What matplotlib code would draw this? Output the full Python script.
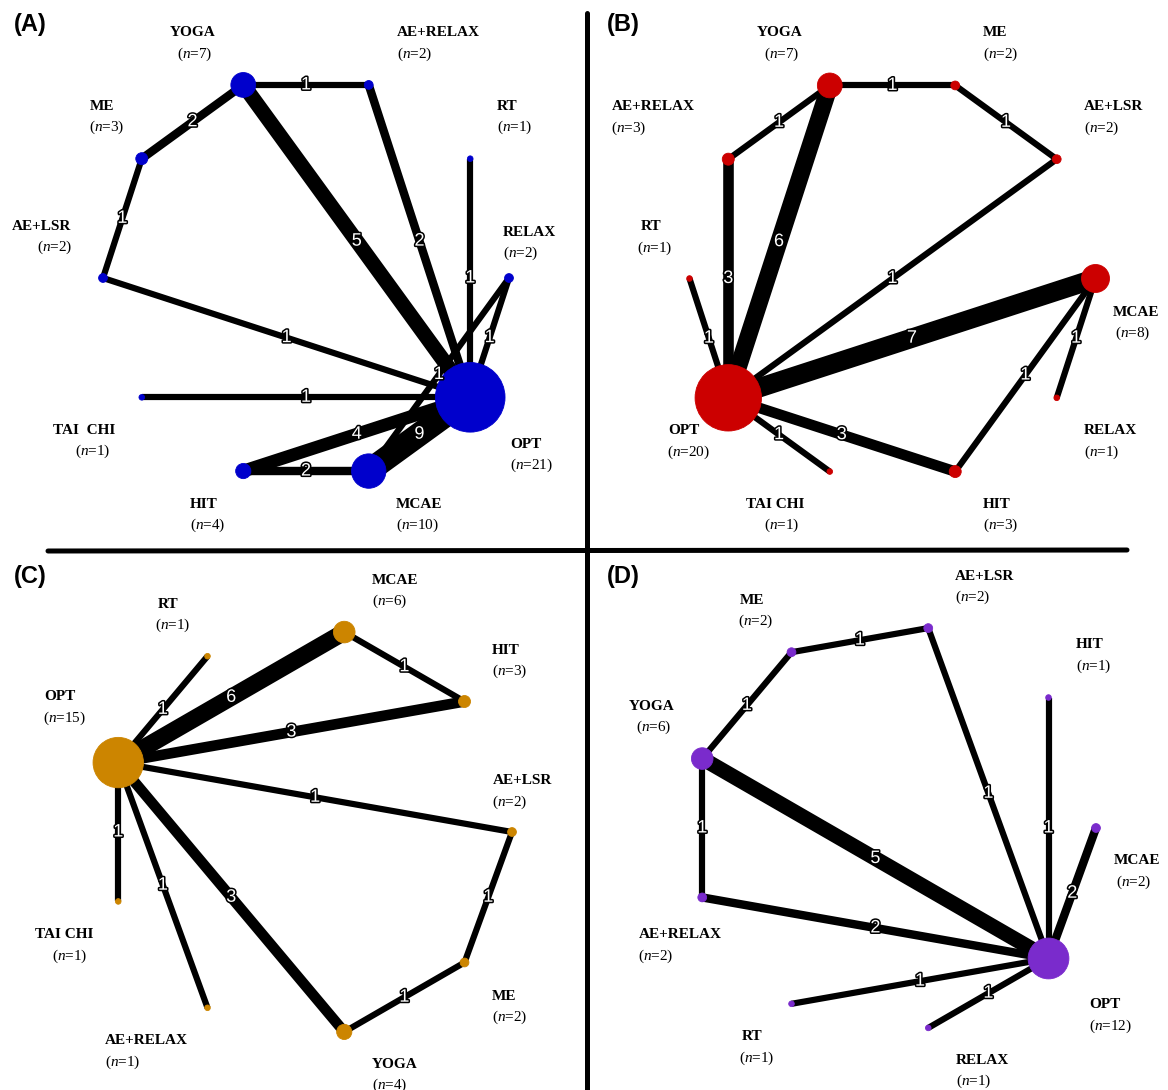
import numpy as np
import matplotlib.pyplot as plt
import matplotlib.patheffects as pe
from matplotlib.patches import Circle

plt.rcParams['mathtext.fontset'] = 'custom'
plt.rcParams['mathtext.rm'] = 'Liberation Serif'
plt.rcParams['mathtext.it'] = 'Liberation Serif:italic'

# ---- data: treatments in circular order (counter-clockwise from 3 o'clock),
# number of studies per node, and number of direct comparisons per edge
a_names = ['RELAX', 'RT', 'AE+RELAX', 'YOGA', 'ME', 'AE+LSR', 'TAI  CHI', 'HIT', 'MCAE', 'OPT']
a_n = [2, 1, 2, 7, 3, 2, 1, 4, 10, 21]
a_edges = [('YOGA', 'AE+RELAX', 1), ('YOGA', 'ME', 2), ('YOGA', 'OPT', 5),
           ('AE+RELAX', 'OPT', 2), ('ME', 'AE+LSR', 1), ('AE+LSR', 'OPT', 1),
           ('RT', 'OPT', 1), ('RELAX', 'OPT', 1), ('RELAX', 'MCAE', 1),
           ('TAI  CHI', 'OPT', 1), ('HIT', 'OPT', 4), ('HIT', 'MCAE', 2),
           ('MCAE', 'OPT', 9)]

b_names = ['MCAE', 'AE+LSR', 'ME', 'YOGA', 'AE+RELAX', 'RT', 'OPT', 'TAI CHI', 'HIT', 'RELAX']
b_n = [8, 2, 2, 7, 3, 1, 20, 1, 3, 1]
b_edges = [('YOGA', 'ME', 1), ('ME', 'AE+LSR', 1), ('YOGA', 'AE+RELAX', 1),
           ('AE+RELAX', 'OPT', 3), ('YOGA', 'OPT', 6), ('AE+LSR', 'OPT', 1),
           ('RT', 'OPT', 1), ('MCAE', 'OPT', 7), ('MCAE', 'RELAX', 1),
           ('MCAE', 'HIT', 1), ('OPT', 'HIT', 3), ('OPT', 'TAI CHI', 1)]

c_names = ['AE+LSR', 'HIT', 'MCAE', 'RT', 'OPT', 'TAI CHI', 'AE+RELAX', 'YOGA', 'ME']
c_n = [2, 3, 6, 1, 15, 1, 1, 4, 2]
c_edges = [('OPT', 'RT', 1), ('OPT', 'MCAE', 6), ('MCAE', 'HIT', 1),
           ('OPT', 'HIT', 3), ('OPT', 'AE+LSR', 1), ('AE+LSR', 'ME', 1),
           ('ME', 'YOGA', 1), ('OPT', 'YOGA', 3), ('OPT', 'AE+RELAX', 1),
           ('OPT', 'TAI CHI', 1)]

d_names = ['MCAE', 'HIT', 'AE+LSR', 'ME', 'YOGA', 'AE+RELAX', 'RT', 'RELAX', 'OPT']
d_n = [2, 1, 2, 2, 6, 2, 1, 1, 12]
d_edges = [('YOGA', 'ME', 1), ('ME', 'AE+LSR', 1), ('AE+LSR', 'OPT', 1),
           ('HIT', 'OPT', 1), ('MCAE', 'OPT', 2), ('YOGA', 'OPT', 5),
           ('YOGA', 'AE+RELAX', 1), ('AE+RELAX', 'OPT', 2), ('RT', 'OPT', 1),
           ('RELAX', 'OPT', 1)]

# ---- layout (pixels): circle centre, node label anchors (name x, n x, name y)
a_center = (306, 278)
b_center = (892.5, 278.5)
c_center = (309, 832)
d_center = (893, 828)
ring_radius = 203

a_labels = {'YOGA': (170, 177, 33), 'AE+RELAX': (397, 397, 33), 'ME': (90, 89, 106),
            'RT': (497, 497, 106), 'AE+LSR': (12, 37, 226), 'RELAX': (503, 503, 232),
            'TAI  CHI': (53, 75, 430), 'OPT': (510, 510, 444), 'HIT': (190, 190, 504),
            'MCAE': (396, 396, 504)}
b_labels = {'YOGA': (757, 764, 33), 'ME': (983, 983, 33), 'AE+LSR': (1084, 1084, 107),
            'AE+RELAX': (612, 611, 107), 'RT': (641, 637, 227), 'MCAE': (1113, 1115, 312),
            'OPT': (668, 667, 431), 'RELAX': (1084, 1084, 431), 'TAI CHI': (746, 764, 504),
            'HIT': (983, 983, 504)}
c_labels = {'MCAE': (372, 372, 580), 'RT': (158, 155, 604), 'HIT': (492, 492, 650),
            'OPT': (44, 43, 697), 'AE+LSR': (493, 492, 781), 'TAI CHI': (35, 52, 935),
            'ME': (492, 492, 996), 'AE+RELAX': (105, 105, 1041), 'YOGA': (372, 372, 1064)}
d_labels = {'AE+LSR': (955, 955, 576), 'ME': (740, 738, 600), 'HIT': (1076, 1076, 645),
            'YOGA': (629, 636, 706), 'MCAE': (1114, 1116, 861), 'AE+RELAX': (639, 638, 935),
            'OPT': (1089, 1089, 1005), 'RT': (742, 739, 1037), 'RELAX': (956, 956, 1060)}

panels = [
    ('(A)', (14, 24), a_names, a_n, a_edges, a_center, a_labels, '#0000CC'),
    ('(B)', (607, 24), b_names, b_n, b_edges, b_center, b_labels, '#CC0000'),
    ('(C)', (14, 576), c_names, c_n, c_edges, c_center, c_labels, '#CC8500'),
    ('(D)', (607, 576), d_names, d_n, d_edges, d_center, d_labels, '#7A2BCC'),
]

PX = 72 / 100  # points per pixel at dpi 100


def draw_network(ax, tag, tag_pos, names, n_studies, edges, center, labels, color):
    k = len(names)
    ang = np.deg2rad(np.arange(k) * 360 / k)
    xs = center[0] + ring_radius * np.cos(ang)
    ys = center[1] - ring_radius * np.sin(ang)
    pos = {nm: (x, y) for nm, x, y in zip(names, xs, ys)}

    for a, b, cnt in edges:
        (x1, y1), (x2, y2) = pos[a], pos[b]
        ax.plot([x1, x2], [y1, y2], color='black', lw=(4 + 2.2 * cnt) * PX,
                solid_capstyle='butt', zorder=1)

    for nm, n in zip(names, n_studies):
        r = 1.6 * n + 1.2
        ax.add_patch(Circle(pos[nm], r, facecolor=color, edgecolor=color,
                            lw=0.6, zorder=2))

    for a, b, cnt in edges:
        (x1, y1), (x2, y2) = pos[a], pos[b]
        ax.text((x1 + x2) / 2, (y1 + y2) / 2, str(cnt), color='white',
                fontsize=13, family='Liberation Sans', ha='center', va='center',
                zorder=3,
                path_effects=[pe.withStroke(linewidth=2.2, foreground='black')])

    for nm, n in zip(names, n_studies):
        xn, xc, yn = labels[nm]
        ax.text(xn, yn, nm, fontsize=11, family='Liberation Serif',
                fontweight='bold', ha='left', va='center', zorder=4)
        ax.text(xc, yn + 21, '(' + r'$\mathit{n}$' + '=%d)' % n, fontsize=11,
                family='Liberation Serif', ha='left', va='center', zorder=4)

    ax.text(tag_pos[0], tag_pos[1], tag, fontsize=17, family='Liberation Sans',
            fontweight='bold', ha='left', va='center', zorder=4)


fig = plt.figure(figsize=(11.68, 10.9), dpi=100)
ax = fig.add_axes([0, 0, 1, 1])
ax.set_xlim(0, 1168)
ax.set_ylim(1090, 0)
ax.set_aspect('equal')
ax.axis('off')

# quadrant separators
ax.plot([587, 587], [13, 1090], color='black', lw=5 * PX, solid_capstyle='round')
ax.plot([48, 1127], [551, 550], color='black', lw=5 * PX, solid_capstyle='round')

for p in panels:
    draw_network(ax, *p)

fig.savefig('out.png', dpi=100)
